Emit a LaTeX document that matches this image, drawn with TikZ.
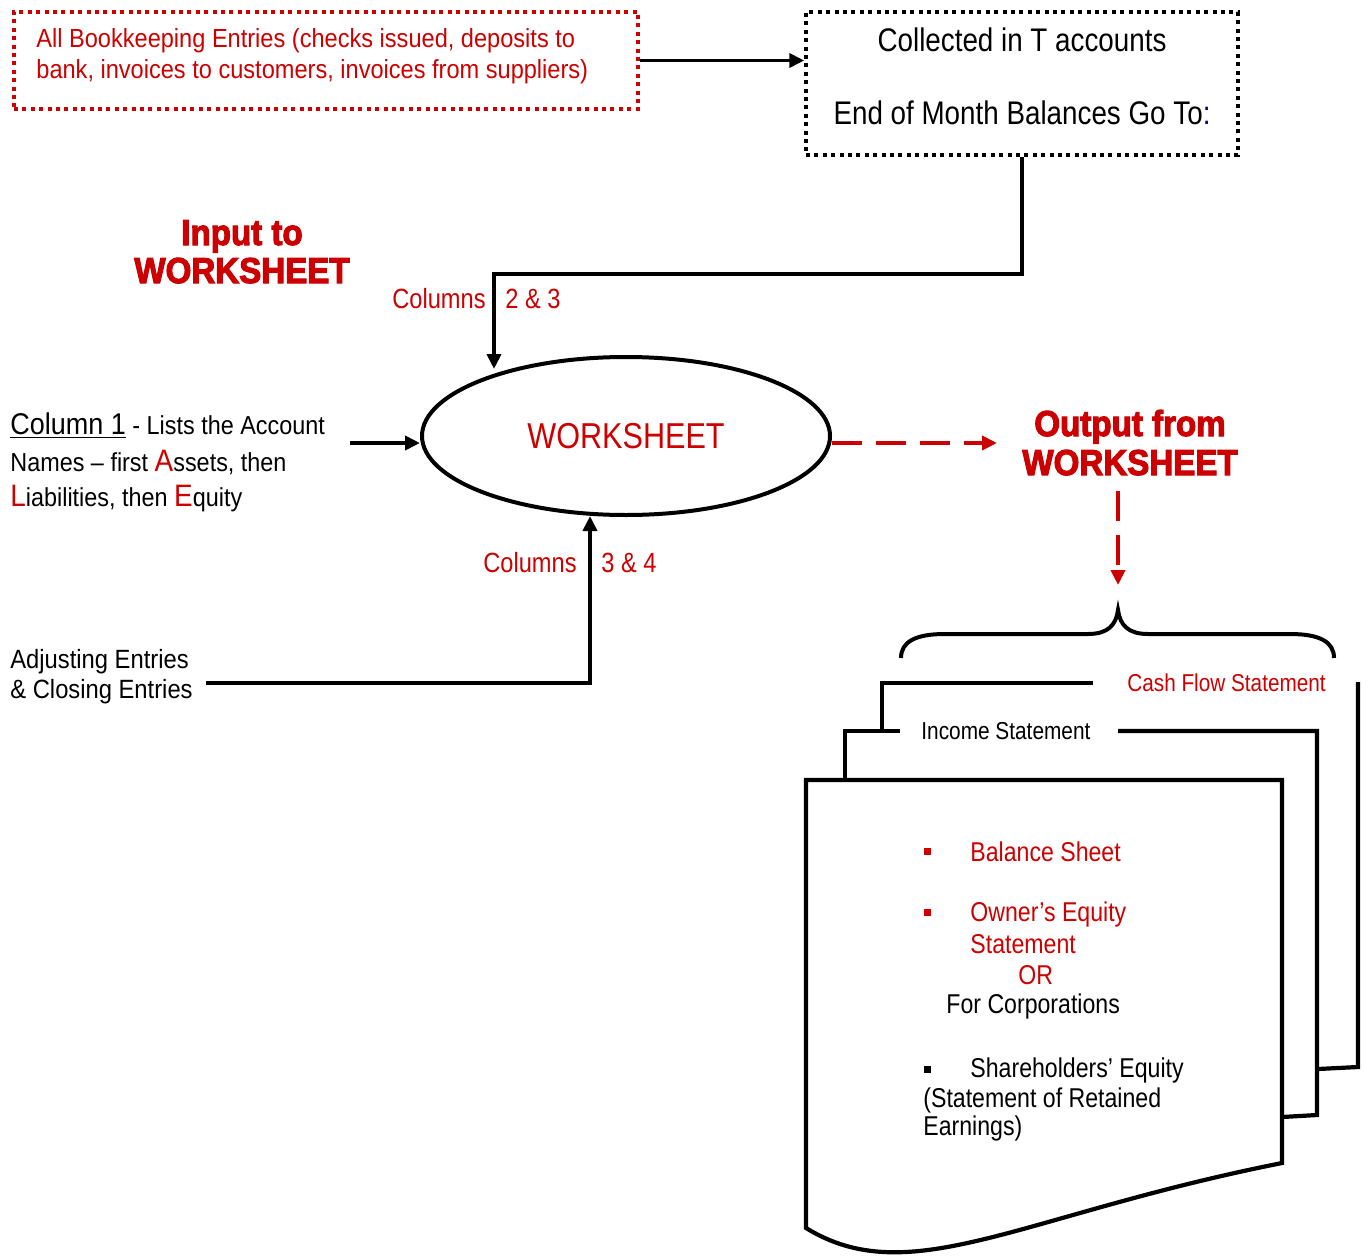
\documentclass[tikz,border=0pt]{standalone}
\usepackage{fontspec}
\setmainfont{Liberation Sans}[FakeStretch=0.9]
\newfontfamily\cnd[FakeStretch=0.85]{Liberation Sans}
\newfontfamily\hvy[FakeStretch=0.92,BoldFeatures={FakeBold=3}]{Liberation Sans}
\usetikzlibrary{arrows.meta,shapes.geometric}
\definecolor{rd}{RGB}{204,0,0}
\definecolor{nv}{RGB}{0,0,128}
\newcommand{\fs}[1]{\fontsize{#1}{#1}\selectfont}
\tikzset{
  conn/.style={line width=1.9pt},
  arr/.style={conn, -{Triangle[length=7.5pt,width=7pt]}},
  rdash/.style={draw=rd, line width=1.9pt, dash pattern=on 15pt off 7pt, -{Triangle[length=7.5pt,width=7pt]}},
  dotbox/.style={draw, line width=1.75pt, dash pattern=on 2pt off 2.2pt, inner sep=0pt},
  txt/.style={inner sep=0pt, anchor=base west},
  ctxt/.style={inner sep=0pt, anchor=base},
  rtxt/.style={inner sep=0pt, anchor=base east},
  pg/.style={line width=2.1pt, line join=miter},
  bodyred/.style={txt, text=rd, font=\fs{13.1}},
  lefttxt/.style={txt, font=\fs{13}},
  headtxt/.style={ctxt, text=rd, font=\hvy\bfseries\fs{18}},
  coltxt/.style={text=rd, font=\cnd\fs{13.9}},
  pagetxt/.style={txt, font=\cnd\fs{13.6}},
}
\begin{document}
\begin{tikzpicture}[x=0.5pt,y=-0.5pt]
\useasboundingbox (0,0) rectangle (1368,1257);

% top boxes
\node[dotbox, draw=rd, minimum width=312pt, minimum height=48.5pt] (bk) at (326,60.5) {};
\node[bodyred] (bk1) at (36,48) {All Bookkeeping Entries (checks issued, deposits to};
\node[bodyred] (bk2) at (36,79) {bank, invoices to customers, invoices from suppliers)};

\node[dotbox, minimum width=216pt, minimum height=71.5pt] (tacc) at (1022,83.5) {};
\node[ctxt, font=\cnd\fs{16.35}] (ta1) at (1022,52) {Collected in T accounts};
\node[ctxt, font=\cnd\fs{16.35}] (ta2) at (1022,125) {End of Month Balances Go To\textcolor{nv}{:}};

\draw[arr] (bk.east) -- (tacc.west |- bk.east);

% headings
\node[headtxt] (in1) at (242,245) {Input to};
\node[headtxt] (in2) at (242,283) {WORKSHEET};
\node[headtxt] (out1) at (1130,436) {Output from};
\node[headtxt] (out2) at (1130,475) {WORKSHEET};

% worksheet ellipse
\node[ellipse, draw, line width=2pt, minimum width=204pt, minimum height=79pt, inner sep=0pt,
      text=rd, font=\cnd\fs{18}] (ws) at (626,436) {WORKSHEET};

% columns 2 & 3
\coordinate (bend1) at (494,274);
\coordinate (wsN) at (494,369);
\draw[arr] (tacc.south) |- (bend1) -- (wsN);
\node[rtxt, coltxt] (c23a) at (486,308) {Columns};
\node[txt, coltxt] (c23b) at (505,308) {2 \& 3};

% column 1
\node[lefttxt] (c1) at (10,434) {{\fs{15}\underline{Column 1}} - Lists the Account};
\node[lefttxt] (c2) at (10,471) {Names -- first {\color{rd}\fs{15.5}A}ssets, then};
\node[lefttxt] (c3) at (10,506) {{\color{rd}\fs{15.5}L}iabilities, then {\color{rd}\fs{15.5}E}quity};
\coordinate (c1e) at (350,443);
\draw[arr] (c1e) -- ([yshift=-3.5pt]ws.west);

% adjusting
\node[lefttxt, font=\fs{13.2}] (adj1) at (10,668) {Adjusting Entries};
\node[lefttxt, font=\fs{13.2}] (adj2) at (10,698) {\& Closing Entries};
\coordinate (adje) at (206,683);
\coordinate (wsS) at (590,516);
\draw[arr] (adje) -| (wsS);
\node[rtxt, coltxt] (c34a) at (577,572) {Columns};
\node[txt, coltxt] (c34b) at (601,572) {3 \& 4};

% output arrows
\coordinate (outL) at (997,443);
\draw[rdash] ([yshift=-3.5pt]ws.east) -- (outL);
\coordinate (outT) at (1118,491);
\coordinate (outB) at (1118,585);
\draw[rdash] (outT) -- (outB);

% brace
\draw[line width=2pt] (901,658) .. controls (901,642) and (915,634) .. (945,634) -- (1088,634)
  .. controls (1108,634) and (1116,625) .. (1118,610)
  .. controls (1120,625) and (1128,634) .. (1148,634) -- (1290,634)
  .. controls (1320,634) and (1334,642) .. (1334,658);

% paper stack
\draw[pg] (1093,683) -- (882,683) -- (882,731);
\draw[pg] (1358,682) -- (1358,1067) -- (1318,1069);
\draw[pg] (900,731) -- (845,731) -- (845,780);
\draw[pg] (1118,731) -- (1317,731) -- (1317,1115) -- (1282,1117);
\draw[pg] (806,780) -- (1282,780) -- (1282,1163) .. controls (1020,1215) and (910,1292) .. (806,1228) -- cycle;

\node[txt, text=rd, font=\cnd\fs{12.2}] (cf) at (1127,691) {Cash Flow Statement};
\node[txt, font=\cnd\fs{12.25}] (is) at (921,739) {Income Statement};

% page text
\fill[rd] (923.5,847.5) rectangle (930.5,854.5);
\fill[rd] (923.5,908.5) rectangle (930.5,915.5);
\fill (923.5,1065.5) rectangle (930.5,1072.5);
\node[pagetxt, text=rd] (bs) at (970,861) {Balance Sheet};
\node[pagetxt, text=rd] (oe1) at (970,921) {Owner’s Equity};
\node[pagetxt, text=rd] (oe2) at (970,953) {Statement};
\node[pagetxt, text=rd] (or) at (1018,984) {OR};
\node[pagetxt] (fc) at (946,1013) {For Corporations};
\node[pagetxt] (sh) at (970,1077) {Shareholders’ Equity};
\node[pagetxt] (st) at (923,1107) {(Statement of Retained};
\node[pagetxt] (ea) at (923,1135) {Earnings)};
\end{tikzpicture}
\end{document}
